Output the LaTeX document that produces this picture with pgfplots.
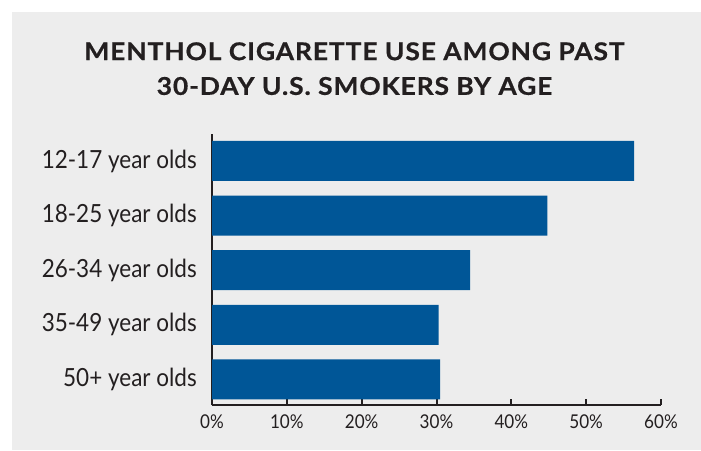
\documentclass[border=0pt]{standalone}
\usepackage{fontspec}
\setmainfont{Lato}
\newfontfamily\labfont[FakeStretch=0.9]{Lato}
\newfontfamily\titlefont[FakeStretch=1.08,LetterSpace=3.5,BoldFeatures={FakeBold=0.6}]{Lato}
\usepackage{pgfplots}
\pgfplotsset{compat=1.18}
\definecolor{bg}{RGB}{237,237,237}
\definecolor{barc}{RGB}{0,86,151}
\definecolor{txt}{RGB}{35,31,32}
\begin{document}
\begin{tikzpicture}
\useasboundingbox (0pt,0pt) rectangle (701pt,-450pt);
\fill[white] (0pt,0pt) rectangle (701pt,-450pt);
\fill[bg] (12pt,-12pt) rectangle (701pt,-450pt);
\node[font=\titlefont\bfseries\fontsize{24.5}{30}\selectfont, text=txt, inner sep=0pt] at (354.5pt,-51.3pt) {MENTHOL CIGARETTE USE AMONG PAST};
\node[font=\titlefont\bfseries\fontsize{24.5}{30}\selectfont, text=txt, inner sep=0pt] at (354.5pt,-86pt) {30-DAY U.S. SMOKERS BY AGE};
\begin{axis}[
  at={(212pt,-405pt)}, anchor=south west,
  scale only axis, width=449pt, height=271pt,
  xbar, bar width=40pt,
  xmin=0, xmax=60, ymin=-0.467, ymax=4.494,
  axis x line*=bottom, axis y line*=left,
  axis line style={line width=2.5pt, draw=txt, -},
  xtick={0,10,20,30,40,50,60},
  xticklabels={0\%,10\%,20\%,30\%,40\%,50\%,60\%},
  ytick={0,1,2,3,4},
  yticklabels={50+ year olds,35-49 year olds,26-34 year olds,18-25 year olds,12-17 year olds},
  xtick align=inside,
  major tick length=6pt,
  xtick style={line width=2pt, draw=txt},
  ytick style={draw=none},
  xticklabel style={font=\labfont\fontsize{19}{22}\selectfont, text=txt, inner sep=0pt, anchor=north, yshift=-10pt},
  yticklabel style={font=\labfont\fontsize{25}{30}\selectfont, text=txt, inner sep=0pt, anchor=east, xshift=-9pt},
  /pgf/number format/assume math mode=true,
]
\addplot[fill=barc, draw=none] coordinates {(30.5,0) (30.3,1) (34.5,2) (44.8,3) (56.4,4)};
\end{axis}
\end{tikzpicture}
\end{document}
